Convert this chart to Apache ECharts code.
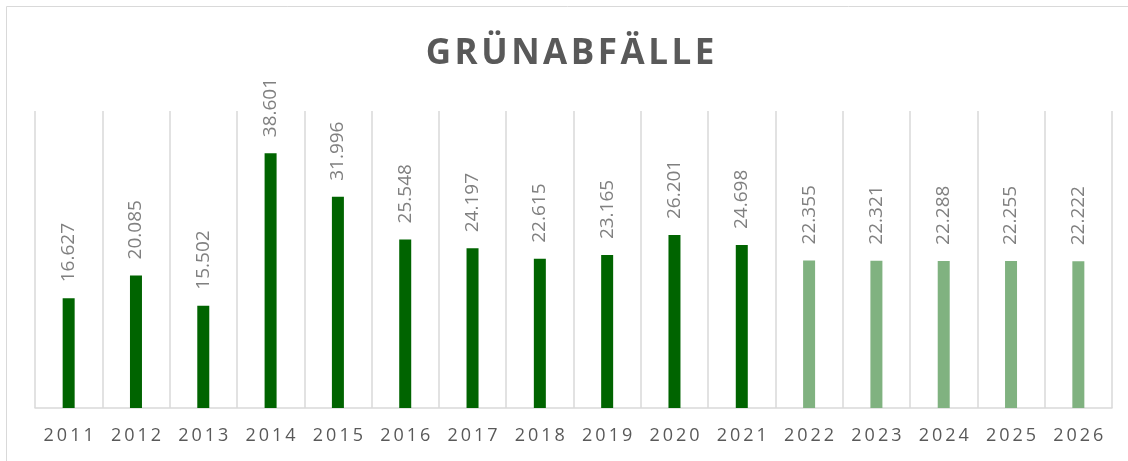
<!DOCTYPE html>
<html>
<head>
<meta charset="utf-8">
<script src="https://cdn.jsdelivr.net/npm/echarts@6/dist/echarts.min.js"></script>
<style>
  html, body { margin: 0; padding: 0; background: #fff; }
  #chart { width: 1128px; height: 461px; }
</style>
</head>
<body>
<div id="chart"></div>
<script>
// Grünabfälle per year; 2022-2026 are forecast values
const years = ["2011", "2012", "2013", "2014", "2015", "2016", "2017", "2018",
    "2019", "2020", "2021", "2022", "2023", "2024", "2025", "2026"];
const values = [16.627, 20.085, 15.502, 38.601, 31.996, 25.548, 24.197, 22.615,
    23.165, 26.201, 24.698, 22.355, 22.321, 22.288, 22.255, 22.222];
const forecastFrom = "2022";

// spread the letters a little, like the letter spacing in the original
const spaced = (s, sp) => s.split("").join(sp);

const chart = echarts.init(document.getElementById("chart"));
const firstForecast = years.indexOf(forecastFrom);

chart.setOption({
    animation: false,
    graphic: [{
        type: "rect",
        shape: { x: 6.5, y: 6.5, width: 1140, height: 470 },
        style: { fill: "none", stroke: "#d9d9d9", lineWidth: 1 },
        silent: true
    }],
    title: {
        text: spaced("GRÜNABFÄLLE", "\u200A"),
        left: 565,
        textAlign: "center",
        top: 32,
        textStyle: {
            fontFamily: "Open Sans",
            fontWeight: "bold",
            fontSize: 35,
            color: "#595959"
        }
    },
    grid: {
        left: 35,
        right: 16,
        top: 111,
        bottom: 53,
        containLabel: false
    },
    xAxis: {
        type: "category",
        data: years,
        boundaryGap: true,
        axisLine: { lineStyle: { color: "#d9d9d9", width: 1.5 } },
        axisTick: { show: false },
        splitLine: { show: true, lineStyle: { color: "#d9d9d9", width: 1.5 } },
        axisLabel: {
            margin: 19,
            fontFamily: "Open Sans",
            fontSize: 18,
            color: "#595959",
            formatter: v => spaced(v, "\u2009")
        }
    },
    yAxis: {
        type: "value",
        min: 0,
        max: 45,
        show: false
    },
    series: [{
        type: "bar",
        barWidth: 12,
        data: values.map((v, i) => ({
            value: v,
            itemStyle: { color: i >= firstForecast ? "#80b280" : "#006400" }
        })),
        label: {
            show: true,
            position: "top",
            rotate: 90,
            align: "left",
            verticalAlign: "middle",
            distance: 16,
            fontFamily: "Open Sans",
            fontSize: 19,
            color: "#808080",
            formatter: p => p.value.toFixed(3)
        }
    }]
});
</script>
</body>
</html>
